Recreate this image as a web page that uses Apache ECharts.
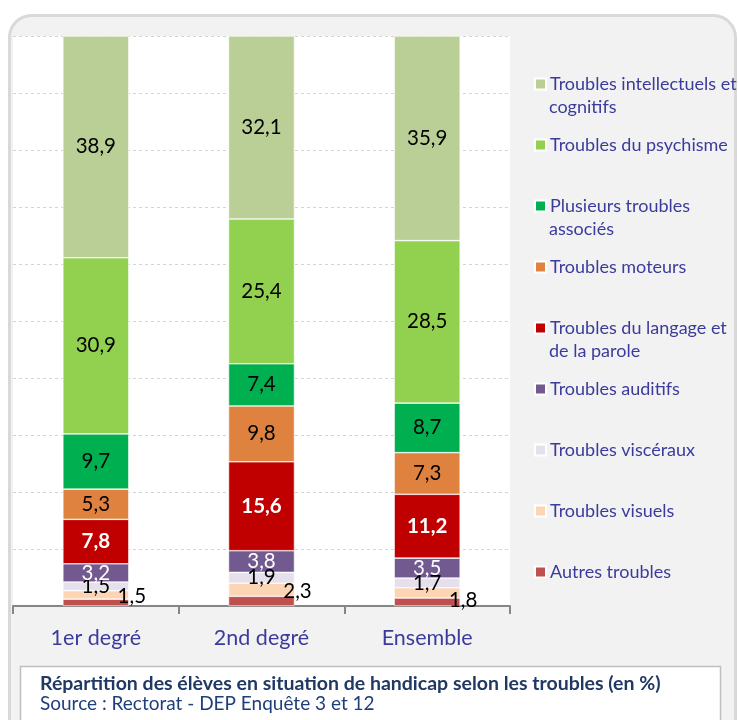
<!DOCTYPE html>
<html>
<head>
<meta charset="utf-8">
<script src="https://cdn.jsdelivr.net/npm/echarts@6/dist/echarts.min.js"></script>
<style>
	body { margin: 0; background: #fff; }
	#chart { width: 738px; height: 720px; }
</style>
</head>
<body>
<div id="chart"></div>
<script>
// categories (x axis)
var categories = ['1er degré', '2nd degré', 'Ensemble'];

// values in %, one array per trouble
var intellectuels = [38.9, 32.1, 35.9];
var psychisme = [30.9, 25.4, 28.5];
var plusieurs = [9.7, 7.4, 8.7];
var moteurs = [5.3, 9.8, 7.3];
var langage = [7.8, 15.6, 11.2];
var auditifs = [3.2, 3.8, 3.5];
var visceraux = [1.5, 1.9, 1.7];
var visuels = [1.5, 2.3, 1.8];
var autres = [1.2, 1.7, 1.4];

var fontName = 'Lato';
var blueText = '#3b3b9c';

function lbl(color, bold) {
	return {
		show: true,
		position: 'inside',
		color: color,
		fontFamily: fontName,
		fontSize: 20.5,
		fontWeight: bold ? 'bold' : 'normal',
		formatter: function(p) {
			return String(p.value).replace('.', ',');
		}
	};
}

function bar(name, values, color, label) {
	return {
		name: name,
		type: 'bar',
		stack: 'total',
		barWidth: 66,
		data: values,
		itemStyle: {
			color: color,
			borderColor: '#ffffff',
			borderWidth: 0.6
		},
		label: label || { show: false }
	};
}

// visuels labels sit on the right edge of the bar
var visuelsLabel = lbl('#000');
visuelsLabel.offset = [36, 2];
var visuelsData = visuels.map(function(v, i) {
	if (i == 2) {
		return { value: v, label: { offset: [36, 8] } };
	}
	return v;
});

var series = [
	bar('Autres troubles', autres, '#c0504d'),
	bar('Troubles visuels', visuelsData, '#fcd5b5', visuelsLabel),
	bar('Troubles viscéraux', visceraux, '#e6e0ec', lbl('#000')),
	bar('Troubles auditifs', auditifs, '#72598f', lbl('#fff')),
	bar('Troubles du langage et de la parole', langage, '#c00000', lbl('#fff', true)),
	bar('Troubles moteurs', moteurs, '#e0823f', lbl('#000')),
	bar('Plusieurs troubles associés', plusieurs, '#00b050', lbl('#000')),
	bar('Troubles du psychisme', psychisme, '#92d050', lbl('#000')),
	bar('Troubles intellectuels et cognitifs', intellectuels, '#b9cf96', lbl('#000'))
];

var legendNames = [
	'Troubles intellectuels et cognitifs',
	'Troubles du psychisme',
	'Plusieurs troubles associés',
	'Troubles moteurs',
	'Troubles du langage et de la parole',
	'Troubles auditifs',
	'Troubles viscéraux',
	'Troubles visuels',
	'Autres troubles'
];
// first line shown by the legend, second line drawn below it
var legendFirstLine = {
	'Troubles intellectuels et cognitifs': 'Troubles intellectuels et',
	'Plusieurs troubles associés': 'Plusieurs troubles',
	'Troubles du langage et de la parole': 'Troubles du langage et'
};

function secondLine(txt, y) {
	return {
		type: 'text',
		left: 549,
		top: y,
		z: 10,
		style: { text: txt, fill: blueText, font: '18px ' + fontName }
	};
}

var myChart = echarts.init(document.getElementById('chart'));

var option = {
	backgroundColor: '#ffffff',
	animation: false,
	grid: {
		show: true,
		backgroundColor: '#ffffff',
		borderWidth: 0,
		left: 13,
		right: 228,
		top: 36,
		bottom: 114
	},
	legend: {
		orient: 'vertical',
		left: 534,
		top: 74,
		padding: 0,
		itemWidth: 11,
		itemHeight: 11,
		itemGap: 41,
		icon: 'rect',
		selectedMode: false,
		data: legendNames,
		formatter: function(name) {
			return legendFirstLine[name] || name;
		},
		textStyle: {
			color: blueText,
			fontFamily: fontName,
			fontSize: 18,
			lineHeight: 20,
			padding: [0, 0, 0, -1]
		}
	},
	xAxis: {
		type: 'category',
		data: categories,
		axisLine: { lineStyle: { color: '#868686', width: 2 } },
		axisTick: { show: true, length: 8, lineStyle: { color: '#868686', width: 2 } },
		axisLabel: {
			color: blueText,
			fontFamily: fontName,
			fontSize: 21.5,
			margin: 21
		}
	},
	yAxis: {
		type: 'value',
		min: 0,
		max: 100,
		interval: 10,
		axisLabel: { show: false },
		axisLine: { show: false },
		axisTick: { show: false },
		splitLine: { lineStyle: { color: '#d4d4d4', type: [3, 3], width: 1 } }
	},
	graphic: [
		{
			type: 'rect',
			z: -10,
			silent: true,
			shape: { x: 9.5, y: 15.5, width: 726, height: 740, r: 22 },
			style: { fill: '#f2f2f2', stroke: '#d9d9d9', lineWidth: 3 }
		},
		{
			type: 'rect',
			z: 5,
			silent: true,
			shape: { x: 20.5, y: 666.5, width: 700, height: 60 },
			style: { fill: '#ffffff', stroke: '#bfbfbf', lineWidth: 1.5 }
		},
		{
			type: 'text',
			left: 40,
			top: 674,
			z: 10,
			style: {
				text: 'Répartition des élèves en situation de handicap selon les troubles (en %)',
				fill: '#1f3864',
				font: 'bold 19.5px ' + fontName
			}
		},
		{
			type: 'text',
			left: 40,
			top: 694,
			z: 10,
			style: {
				text: 'Source : Rectorat - DEP Enquête 3 et 12',
				fill: '#1f3f7a',
				font: '19px ' + fontName
			}
		},
		secondLine('cognitifs', 98),
		secondLine('associés', 220),
		secondLine('de la parole', 342)
	],
	series: series
};

myChart.setOption(option);
</script>
</body>
</html>
